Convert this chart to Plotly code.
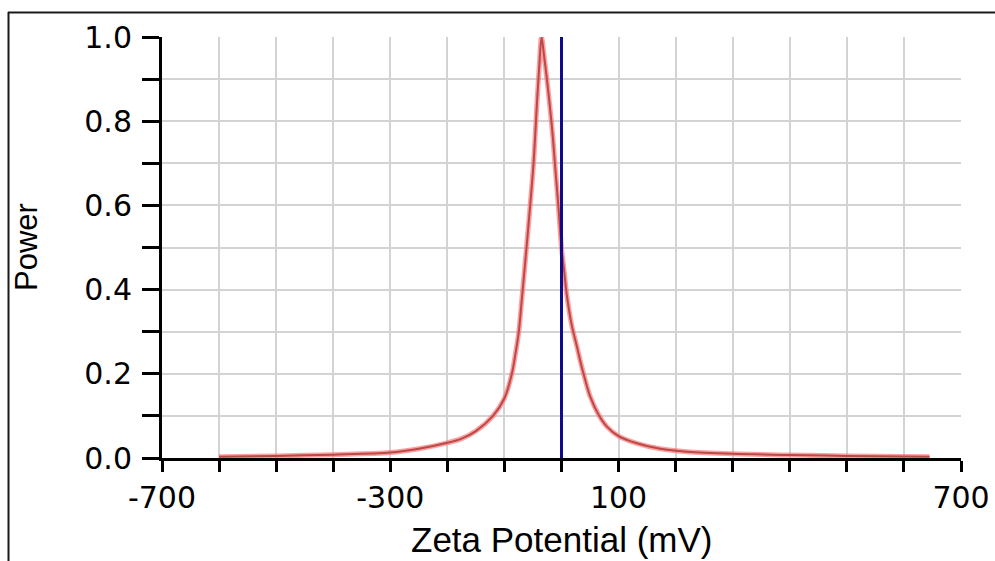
import plotly.graph_objects as go

# Zeta potential distribution (normalised power)
zeta_mv = [-600, -500, -400, -300, -250, -200, -175, -150, -120, -100,
           -87, -81, -75, -70, -60, -49, -43, -39, -35, -31,
           -26, -20, -15, -11, -5, 0, 5, 9, 18, 27,
           33, 41, 50, 65, 80, 100, 132, 173, 220, 300,
           400, 500, 645]
power = [0.003, 0.005, 0.008, 0.013, 0.022, 0.036, 0.046, 0.064, 0.1, 0.142,
         0.2, 0.245, 0.298, 0.37, 0.52, 0.7, 0.843, 0.93, 1.0, 0.96,
         0.905, 0.83, 0.76, 0.69, 0.59, 0.5, 0.44, 0.39, 0.315, 0.265,
         0.23, 0.188, 0.147, 0.103, 0.074, 0.052, 0.035, 0.022, 0.015, 0.01,
         0.007, 0.005, 0.003]

# Vertical marker at 0 mV
marker_x = [0, 0]
marker_y = [0, 1]

x_ticks = list(range(-700, 701, 100))
x_labels = {-700: "-700", -300: "-300", 100: "100", 700: "700"}
y_ticks = [i / 10 for i in range(11)]
y_labels = ["0.0", "", "0.2", "", "0.4", "", "0.6", "", "0.8", "", "1.0"]

W, H = 995, 561
L, R, T, B = 162, 34, 37, 103
PW, PH = W - L - R, H - T - B


def px_x(p):
    return (p - L) / PW


def px_y(p):
    return (H - B - p) / PH


fig = go.Figure()

# soft halo and darker core give the anti-aliased red trace
fig.add_trace(go.Scatter(x=zeta_mv, y=power, mode="lines",
                         line=dict(color="rgba(255,120,120,0.7)", width=5,
                                   shape="spline", smoothing=0.9),
                         hoverinfo="skip", showlegend=False))
fig.add_trace(go.Scatter(x=zeta_mv, y=power, mode="lines",
                         line=dict(color="#b84a4a", width=2,
                                   shape="spline", smoothing=0.9),
                         showlegend=False))
fig.add_trace(go.Scatter(x=marker_x, y=marker_y, mode="lines",
                         line=dict(color="#0c0c8c", width=3),
                         showlegend=False))

tick_font = dict(family="DejaVu Sans", size=30, color="black")

fig.update_xaxes(range=[-700, 700], tickmode="array", tickvals=x_ticks,
                 ticktext=[x_labels.get(v, "") for v in x_ticks],
                 showgrid=True, gridcolor="#d3d3d3", gridwidth=2,
                 showline=True, linecolor="black", linewidth=3,
                 ticks="outside", ticklen=11, tickwidth=2.5, tickcolor="black",
                 zeroline=False, tickfont=tick_font, layer="below traces",
                 automargin=False)
fig.update_yaxes(range=[0, 1], tickmode="array", tickvals=y_ticks,
                 ticktext=y_labels,
                 showgrid=True, gridcolor="#d3d3d3", gridwidth=2,
                 showline=True, linecolor="black", linewidth=3,
                 ticks="outside", ticklen=17, tickwidth=2.5, tickcolor="black",
                 zeroline=False, tickfont=tick_font, ticklabelstandoff=4,
                 automargin=False)

fig.add_annotation(text="Zeta Potential (mV)", xref="paper", yref="paper",
                   x=px_x(562), y=px_y(539), xanchor="center", yanchor="middle",
                   showarrow=False,
                   font=dict(family="Liberation Sans", size=35, color="black"))
fig.add_annotation(text="Power", xref="paper", yref="paper",
                   x=px_x(26), y=px_y(247), xanchor="center", yanchor="middle",
                   textangle=-90, showarrow=False,
                   font=dict(family="Liberation Sans", size=31, color="black"))

# outer frame (left and top edges)
frame = dict(color="#1a1a1a", width=2)
fig.add_shape(type="line", xref="paper", yref="paper",
              x0=px_x(8.5), x1=px_x(8.5), y0=px_y(12), y1=px_y(H + 5), line=frame)
fig.add_shape(type="line", xref="paper", yref="paper",
              x0=px_x(8), x1=px_x(W + 5), y0=px_y(12.5), y1=px_y(12.5), line=frame)

fig.update_layout(width=W, height=H, margin=dict(l=L, r=R, t=T, b=B),
                  paper_bgcolor="white", plot_bgcolor="white",
                  showlegend=False)

fig.write_html("out.html")
